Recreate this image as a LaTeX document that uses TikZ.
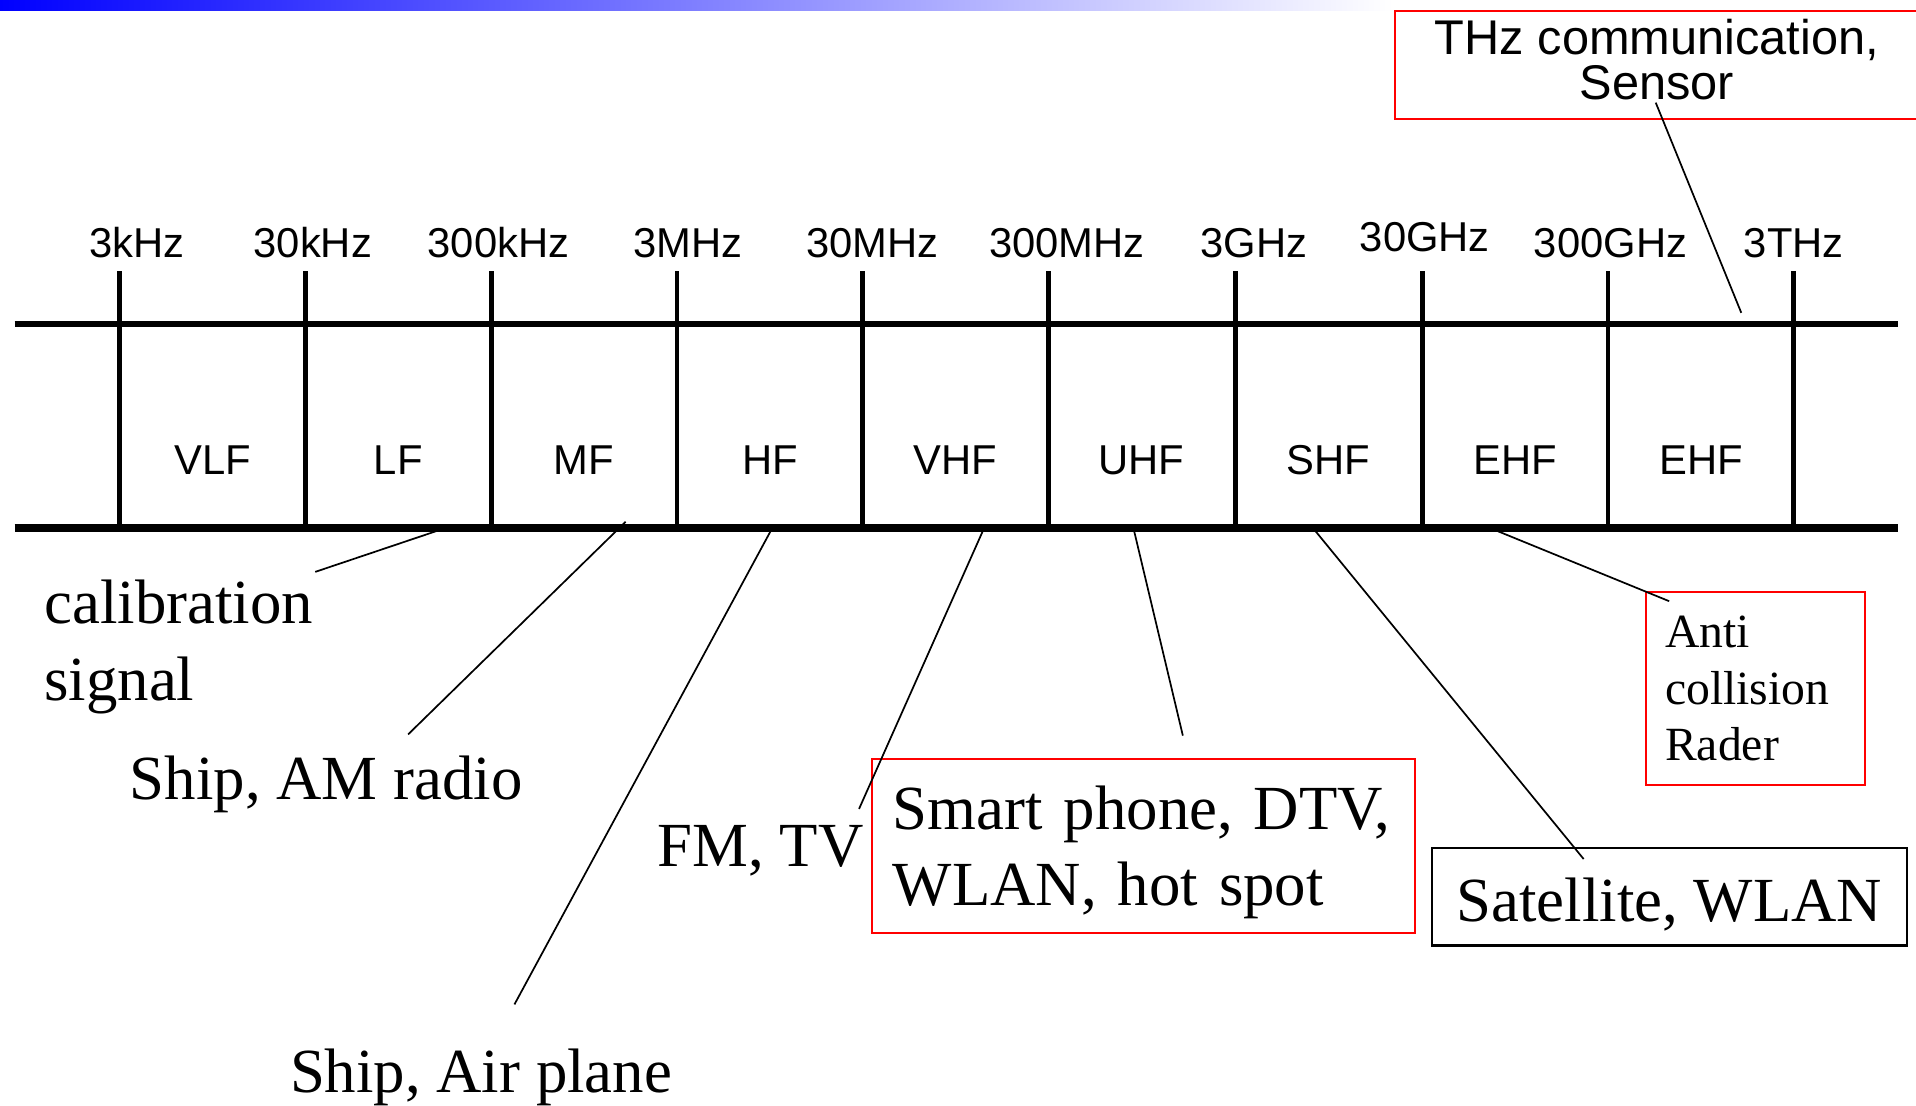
\documentclass[tikz,border=0pt]{standalone}
\usepackage{fontspec}
\setmainfont{Liberation Serif}
\newfontfamily\axisfont{Liberation Sans}

\begin{document}
\begin{tikzpicture}[x=0.02cm, y=-0.02cm,
    bar/.style={line width=2.6pt},
    tick/.style={line width=2.2pt},
    lead/.style={line width=0.8pt},
    axislabel/.style={font=\axisfont\fontsize{19.45pt}{23pt}\selectfont,
        inner sep=0pt, anchor=base},
    usage/.style={font=\fontsize{29.25pt}{35.7pt}\selectfont,
        inner sep=0pt, anchor=base west, align=left},
    redbox/.style={draw=red, line width=0.9pt, anchor=north west,
        inner ysep=0pt}]

    \useasboundingbox (0,0) rectangle (1568,905);
    \fill [white] (0,0) rectangle (1568,905);
    \shade [left color=blue, right color=white] (0,0) rectangle (1140,9);

    \coordinate (barTL) at (12,265);
    \coordinate (barTR) at (1553,265);
    \coordinate (barBL) at (12,432);
    \coordinate (barBR) at (1553,432);

    \draw [bar] (barTL) -- (barTR);
    \draw [bar, line width=3.4pt] (barBL) -- (barBR);

    \foreach \x [count=\i] in {98,250,402,554,706,858,1011,1164,1316,1468}
    {
        \coordinate (top\i) at (\x,222);
        \coordinate (bot\i) at (\x,432);
        \draw [tick] (top\i) -- (bot\i);
    }

    \foreach \f/\x/\y in {3kHz/112/211, 30kHz/256/211, 300kHz/408/211,
        3MHz/563/211, 30MHz/714/211, 300MHz/873/211, 3GHz/1026/211,
        30GHz/1166/206, 300GHz/1318/211, 3THz/1468/211}
        \node [axislabel] (freq\f) at (\x,\y) {\f};

    \foreach \b/\x [count=\i] in {VLF/174, LF/326, MF/478, HF/630, VHF/782,
        UHF/934, SHF/1087, EHF/1240, EHF/1392}
        \node [axislabel] (band\i) at (\x,388) {\b};

    \node [usage] (calib) at (36,573) {calibration\\signal};
    \node [usage] (amradio) at (106,654) {Ship, AM radio};
    \node [usage] (fmtv) at (538,709) {FM, TV};
    \node [usage] (airplane) at (237,894) {Ship, Air plane};

    \node [redbox, font=\fontsize{29.25pt}{35.7pt}\selectfont, align=left,
        text width=233.6pt, inner xsep=9.64pt, minimum height=81.1pt,
        text height=26.7pt, text depth=42pt]
        (smart) at (713,620) {Smart phone, DTV,\\WLAN, hot spot};
    \node [draw, line width=1.1pt, anchor=north west, inner sep=0pt,
        minimum width=221.1pt, minimum height=45.35pt,
        text height=25.7pt, text depth=3pt,
        font=\fontsize{29.25pt}{35.7pt}\selectfont]
        (sat) at (1171,693) {Satellite, WLAN};
    \node [redbox, font=\fontsize{22.2pt}{26.4pt}\selectfont, align=left,
        text width=83.9pt, inner xsep=9.07pt, minimum height=89.6pt]
        (anti) at (1346,484) {Anti\\collision\\Rader};
    \node [redbox, font=\axisfont\fontsize{22.7pt}{21pt}\selectfont,
        align=center, inner xsep=0pt, minimum width=243.8pt,
        minimum height=50.5pt, text height=36.3pt, text depth=4pt]
        (thz) at (1141,8) {THz communication,\\Sensor};

    \coordinate (calibA) at (359,434);
    \coordinate (calibB) at (258,468);
    \coordinate (amA) at (512,427);
    \coordinate (amB) at (334,601);
    \coordinate (airA) at (631,434);
    \coordinate (airB) at (421,822);
    \coordinate (fmA) at (805,433);
    \coordinate (fmB) at (703,662);
    \coordinate (smartA) at (928,434);
    \coordinate (smartB) at (968,602);
    \coordinate (satA) at (1076,434);
    \coordinate (satB) at (1296,703);
    \coordinate (antiA) at (1224,434);
    \coordinate (antiB) at (1366,492);
    \coordinate (thzA) at (1425,256);
    \coordinate (thzB) at (1355,84);

    \draw [lead] (calibA) -- (calibB);
    \draw [lead] (amA) -- (amB);
    \draw [lead] (airA) -- (airB);
    \draw [lead] (fmA) -- (fmB);
    \draw [lead] (smartA) -- (smartB);
    \draw [lead] (satA) -- (satB);
    \draw [lead] (antiA) -- (antiB);
    \draw [lead] (thzA) -- (thzB);
\end{tikzpicture}
\end{document}
